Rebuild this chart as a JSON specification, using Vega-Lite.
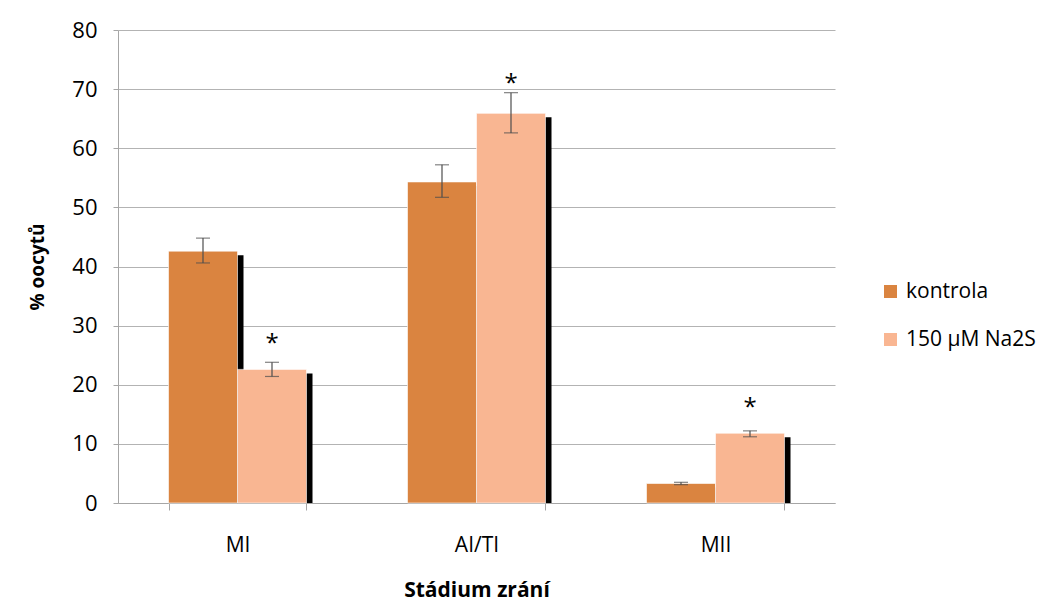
{
  "$schema": "https://vega.github.io/schema/vega-lite/v6.json",
  "width": 717,
  "height": 473,
  "autosize": {"type": "none"},
  "padding": {"left": 118, "top": 30, "right": 220, "bottom": 111},
  "background": "white",
  "config": {
    "view": {"stroke": null},
    "font": "Open Sans"
  },
  "data": {
    "values": [
      {"stage": "MI", "group": "kontrola", "value": 42.6, "lo": 40.6, "hi": 44.8, "star": null},
      {"stage": "MI", "group": "150 µM Na2S", "value": 22.6, "lo": 21.4, "hi": 23.8, "star": 27.7},
      {"stage": "AI/TI", "group": "kontrola", "value": 54.3, "lo": 51.7, "hi": 57.2, "star": null},
      {"stage": "AI/TI", "group": "150 µM Na2S", "value": 65.9, "lo": 62.6, "hi": 69.4, "star": 71.7},
      {"stage": "MII", "group": "kontrola", "value": 3.3, "lo": 3.1, "hi": 3.5, "star": null},
      {"stage": "MII", "group": "150 µM Na2S", "value": 11.8, "lo": 11.2, "hi": 12.2, "star": 16.9}
    ]
  },
  "encoding": {
    "x": {
      "field": "stage",
      "type": "nominal",
      "sort": ["MI", "AI/TI", "MII"],
      "scale": {"paddingInner": 0.4226, "paddingOuter": 0.2113},
      "title": "Stádium zrání",
      "axis": {
        "labelAngle": 0,
        "labelFontSize": 21,
        "labelColor": "#000000",
        "labelPadding": 24,
        "tickBand": "extent",
        "tickSize": 7,
        "tickColor": "#a6a6a6",
        "domainColor": "#a6a6a6",
        "titleFontSize": 21,
        "titleFontWeight": "bold",
        "titleColor": "#000000",
        "titlePadding": 24
      }
    }
  },
  "resolve": {"scale": {"xOffset": "independent"}},
  "layer": [
    {
      "mark": {"type": "bar", "color": "#000000", "yOffset": 4, "clip": true},
      "encoding": {
        "xOffset": {"field": "group", "type": "nominal", "sort": ["kontrola", "150 µM Na2S"], "scale": {"range": [6, 144], "paddingInner": 0, "paddingOuter": 0}},
        "y": {"field": "value", "type": "quantitative"}
      }
    },
    {
      "encoding": {
        "xOffset": {"field": "group", "type": "nominal", "sort": ["kontrola", "150 µM Na2S"]}
      },
      "layer": [
        {
          "mark": {"type": "bar", "stroke": "#ffffff", "strokeOpacity": 0.6, "strokeWidth": 1},
          "encoding": {
            "y": {
              "field": "value",
              "type": "quantitative",
              "scale": {"domain": [0, 80], "nice": false},
              "title": "% oocytů",
              "axis": {
                "values": [0, 10, 20, 30, 40, 50, 60, 70, 80],
                "labelFontSize": 22,
                "labelColor": "#000000",
                "labelPadding": 16,
                "tickSize": 5,
                "tickColor": "#a6a6a6",
                "domainColor": "#a6a6a6",
                "gridColor": "#b3b3b3",
                "titleFontSize": 19,
                "titleFontWeight": "bold",
                "titleColor": "#000000",
                "titlePadding": 24
              }
            },
            "color": {
              "field": "group",
              "type": "nominal",
              "scale": {"domain": ["kontrola", "150 µM Na2S"], "range": ["#DA8440", "#F9B692"]},
              "legend": {
                "title": null,
                "orient": "none",
                "legendX": 762,
                "legendY": 251,
                "symbolType": "square",
                "symbolSize": 170,
                "symbolStrokeWidth": 0,
                "labelFontSize": 21,
                "labelColor": "#000000",
                "rowPadding": 26,
                "labelOffset": 5
              }
            }
          }
        },
        {
          "mark": {"type": "rule", "color": "#4d4d4d", "strokeWidth": 1.2},
          "encoding": {
            "y": {"field": "lo", "type": "quantitative"},
            "y2": {"field": "hi"}
          }
        },
        {
          "mark": {"type": "tick", "color": "#4d4d4d", "size": 14, "thickness": 1.2},
          "encoding": {
            "y": {"field": "lo", "type": "quantitative"}
          }
        },
        {
          "mark": {"type": "tick", "color": "#4d4d4d", "size": 14, "thickness": 1.2},
          "encoding": {
            "y": {"field": "hi", "type": "quantitative"}
          }
        },
        {
          "transform": [{"filter": "datum.star != null"}],
          "mark": {"type": "text", "text": "*", "fontSize": 24, "baseline": "middle", "dy": 5, "fill": "#000000"},
          "encoding": {
            "y": {"field": "star", "type": "quantitative"}
          }
        }
      ]
    }
  ]
}
